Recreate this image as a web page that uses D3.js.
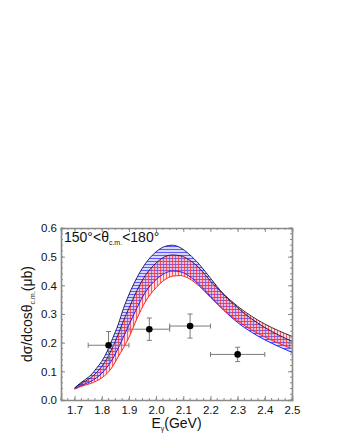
<!DOCTYPE html>
<html>
<head>
<meta charset="utf-8">
<script src="https://d3js.org/d3.v7.min.js"></script>
<style>
  body { margin: 0; background: #fff; }
  text { font-family: "Liberation Sans", Arial, sans-serif; }
</style>
</head>
<body>
<div id="chart"></div>
<script>
// energies (GeV) where the band edges were read
const energy = [1.70,1.72,1.74,1.76,1.78,1.80,1.82,1.84,1.86,1.88,1.90,1.93,1.96,2.00,2.03,2.06,2.09,2.12,2.16,2.20,2.25,2.30,2.35,2.40,2.45,2.50];
// blue band (upper / lower edge)
const blueUpper = [0.042,0.058,0.072,0.087,0.110,0.135,0.170,0.215,0.262,0.320,0.368,0.428,0.475,0.517,0.535,0.540,0.531,0.510,0.472,0.425,0.367,0.322,0.284,0.253,0.227,0.205];
const blueLower = [0.039,0.049,0.057,0.065,0.077,0.093,0.115,0.143,0.180,0.220,0.262,0.322,0.375,0.420,0.441,0.450,0.447,0.433,0.401,0.361,0.312,0.270,0.237,0.210,0.187,0.166];
// red band (upper / lower edge)
const redUpper = [0.041,0.055,0.066,0.078,0.095,0.117,0.146,0.184,0.228,0.277,0.320,0.383,0.434,0.478,0.499,0.506,0.503,0.490,0.459,0.415,0.368,0.327,0.293,0.265,0.242,0.222];
const redLower = [0.038,0.046,0.052,0.058,0.066,0.077,0.093,0.117,0.150,0.182,0.218,0.285,0.342,0.392,0.418,0.432,0.434,0.424,0.396,0.358,0.313,0.276,0.245,0.220,0.198,0.179];

// measured points
const ptE    = [1.825, 1.975, 2.125, 2.30];
const ptVal  = [0.191, 0.247, 0.258, 0.159];
const ptElo  = [1.75, 1.90, 2.05, 2.20];
const ptEhi  = [1.90, 2.05, 2.20, 2.40];
const ptErr  = [0.048, 0.039, 0.042, 0.025];

const xTicks = [1.7,1.8,1.9,2.0,2.1,2.2,2.3,2.4,2.5];
const yTicks = [0.0,0.1,0.2,0.3,0.4,0.5,0.6];

const W = 340, H = 440;
const margin = { top: 228, right: 48, bottom: 40, left: 61 },
      width = W - margin.left - margin.right,
      height = H - margin.top - margin.bottom;

const svg = d3.select("#chart").append("svg")
    .attr("width", W).attr("height", H);

const defs = svg.append("defs");
// horizontal blue hatch
const pb = defs.append("pattern").attr("id", "hatchBlue")
    .attr("patternUnits", "userSpaceOnUse").attr("width", 3).attr("height", 3);
pb.append("rect").attr("width", 3).attr("height", 3).attr("fill", "rgba(100,100,255,0.25)");
pb.append("line").attr("x1", 0).attr("x2", 3).attr("y1", 0.5).attr("y2", 0.5)
    .attr("stroke", "#2a2aff").attr("stroke-width", 1).attr("stroke-opacity", 0.7);
// vertical red hatch
const pr = defs.append("pattern").attr("id", "hatchRed")
    .attr("patternUnits", "userSpaceOnUse").attr("width", 3).attr("height", 3);
pr.append("rect").attr("width", 3).attr("height", 3).attr("fill", "rgba(255,100,100,0.22)");
pr.append("line").attr("y1", 0).attr("y2", 3).attr("x1", 0.5).attr("x2", 0.5)
    .attr("stroke", "#ff2a2a").attr("stroke-width", 1).attr("stroke-opacity", 0.7);

const g = svg.append("g").attr("transform", `translate(${margin.left},${margin.top})`);

const x = d3.scaleLinear().domain([1.65, 2.5]).range([0, width]);
const y = d3.scaleLinear().domain([0, 0.6]).range([height, 0]);

g.append("clipPath").attr("id", "clip").append("rect")
    .attr("width", width).attr("height", height);
const plot = g.append("g").attr("clip-path", "url(#clip)");

function band(up, lo) {
    return d3.area().curve(d3.curveMonotoneX)
        .x((d, i) => x(energy[i]))
        .y0((d, i) => y(lo[i]))
        .y1((d, i) => y(up[i]))(energy);
}
function edge(vals) {
    return d3.line().curve(d3.curveMonotoneX)
        .x((d, i) => x(energy[i]))
        .y((d, i) => y(vals[i]))(energy);
}

plot.append("path").attr("d", band(blueUpper, blueLower)).attr("fill", "url(#hatchBlue)");
plot.append("path").attr("d", band(redUpper, redLower)).attr("fill", "url(#hatchRed)");

plot.append("path").attr("d", edge(blueLower)).attr("fill", "none").attr("stroke", "#2020ff").attr("stroke-width", 1);
plot.append("path").attr("d", edge(redLower)).attr("fill", "none").attr("stroke", "#ff2020").attr("stroke-width", 1);
plot.append("path").attr("d", edge(redUpper)).attr("fill", "none").attr("stroke", "#3a1030").attr("stroke-width", 0.9);
plot.append("path").attr("d", edge(blueUpper)).attr("fill", "none").attr("stroke", "#10104a").attr("stroke-width", 0.9);

// error bars
const errColor = "#7a7a7a";
ptE.forEach((e, i) => {
    const eb = g.append("g").attr("stroke", errColor).attr("stroke-width", 1);
    eb.append("line").attr("x1", x(ptElo[i])).attr("x2", x(ptEhi[i]))
        .attr("y1", y(ptVal[i])).attr("y2", y(ptVal[i]));
    [ptElo[i], ptEhi[i]].forEach(v => eb.append("line")
        .attr("x1", x(v)).attr("x2", x(v))
        .attr("y1", y(ptVal[i]) - 2.5).attr("y2", y(ptVal[i]) + 2.5));
    eb.append("line").attr("x1", x(e)).attr("x2", x(e))
        .attr("y1", y(ptVal[i] - ptErr[i])).attr("y2", y(ptVal[i] + ptErr[i]));
    [ptVal[i] - ptErr[i], ptVal[i] + ptErr[i]].forEach(v => eb.append("line")
        .attr("x1", x(e) - 2.5).attr("x2", x(e) + 2.5)
        .attr("y1", y(v)).attr("y2", y(v)));
});
g.selectAll("circle.pt").data(ptE).enter().append("circle")
    .attr("class", "pt")
    .attr("cx", d => x(d))
    .attr("cy", (d, i) => y(ptVal[i]))
    .attr("r", 3.3)
    .attr("fill", "#000");

// frame with inward ticks on all sides
const frameColor = "#8a8a8a";
const xMinor = d3.range(1.65, 2.5001, 0.025);
const yMinor = d3.range(0, 0.6001, 0.02);

const axB = g.append("g").attr("transform", `translate(0,${height})`)
    .call(d3.axisBottom(x).tickValues(xTicks).tickSize(-4).tickFormat(d3.format(".1f")));
const axL = g.append("g")
    .call(d3.axisLeft(y).tickValues(yTicks).tickSize(-4).tickFormat(d3.format(".1f")));
const axT = g.append("g")
    .call(d3.axisTop(x).tickValues(xTicks).tickSize(-4).tickFormat(""));
const axR = g.append("g").attr("transform", `translate(${width},0)`)
    .call(d3.axisRight(y).tickValues(yTicks).tickSize(-4).tickFormat(""));

[axB, axL, axT, axR].forEach(a => {
    a.select(".domain").attr("stroke", frameColor).attr("stroke-width", 1.6);
    a.selectAll(".tick line").attr("stroke", frameColor);
    a.selectAll(".tick text").attr("fill", "#111").style("font-size", "11.5px");
});
axB.selectAll(".tick text").attr("dy", "0.9em").attr("y", 4);
axL.selectAll(".tick text").attr("x", -4);

// minor ticks
[[0, height, -2], [0, 0, 2]].forEach(([dx, dy, len]) => {
    g.append("g").selectAll("line").data(xMinor).enter().append("line")
        .attr("x1", d => x(d)).attr("x2", d => x(d))
        .attr("y1", dy).attr("y2", dy + len)
        .attr("stroke", frameColor);
});
[[0, 2], [width, -2]].forEach(([dx, len]) => {
    g.append("g").selectAll("line").data(yMinor).enter().append("line")
        .attr("x1", dx).attr("x2", dx + len)
        .attr("y1", d => y(d)).attr("y2", d => y(d))
        .attr("stroke", frameColor);
});

// angle range label
const lab = g.append("text").attr("x", 3).attr("y", 14)
    .style("font-size", "14px").attr("fill", "#111");
lab.append("tspan").text("150°<θ");
lab.append("tspan").attr("dy", 3).style("font-size", "7px").text("c.m.");
lab.append("tspan").attr("dy", -3).text("<180°");

// x axis title
const xt = svg.append("text")
    .attr("x", margin.left + width / 2).attr("y", 428)
    .attr("text-anchor", "middle").style("font-size", "14px").attr("fill", "#111");
xt.append("tspan").text("E");
xt.append("tspan").attr("dy", 3).style("font-size", "7px").text("γ");
xt.append("tspan").attr("dy", -3).text("(GeV)");

// y axis title
const yt = svg.append("text")
    .attr("transform", `translate(32,${margin.top + height / 2}) rotate(-90)`)
    .attr("text-anchor", "middle").style("font-size", "14px").attr("fill", "#111");
yt.append("tspan").text("dσ/dcosθ");
yt.append("tspan").attr("dy", 3).style("font-size", "7px").text("c.m.");
yt.append("tspan").attr("dy", -3).text("(μb)");
</script>
</body>
</html>
